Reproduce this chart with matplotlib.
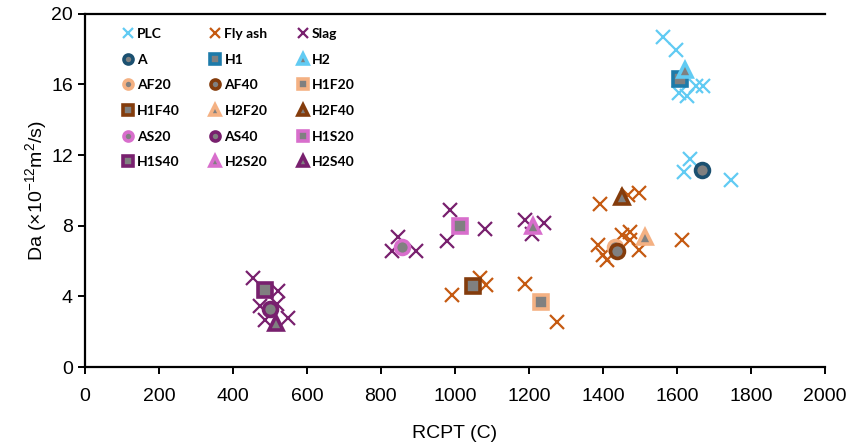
import matplotlib
matplotlib.use("Agg")
import matplotlib.pyplot as plt

plt.rcParams['mathtext.default'] = 'regular'

# ---- data (RCPT in C, Da in 1e-12 m2/s) ----
plc_x = [1561, 1596, 1605, 1626, 1651, 1669, 1635, 1619, 1746]
plc_y = [18.7, 17.95, 15.5, 15.35, 15.9, 15.9, 11.8, 11.05, 10.6]

flyash_x = [1392, 1468, 1497, 1387, 1399, 1410, 1451, 1473, 1473, 1497, 1614,
            1068, 1084, 991, 1189, 1275]
flyash_y = [9.25, 9.75, 9.85, 6.9, 6.35, 6.05, 7.5, 7.65, 7.2, 6.65, 7.2,
            5.05, 4.65, 4.1, 4.7, 2.55]

slag_x = [847, 829, 896, 986, 979, 1081, 1189, 1207, 1241,
          455, 522, 472, 520, 487, 548]
slag_y = [7.38, 6.55, 6.55, 8.9, 7.15, 7.8, 8.35, 7.55, 8.15,
          5.05, 4.3, 3.45, 3.55, 2.65, 2.8]

mix_names = ["A", "H1", "H2", "AF20", "AF40", "H1F20", "H1F40", "H2F20", "H2F40",
             "AS20", "AS40", "H1S20", "H1S40", "H2S20", "H2S40"]
mix_x = [1668, 1608, 1622, 1433, 1437, 1232, 1048, 1514, 1451,
         858, 500, 1014, 488, 1212, 516]
mix_y = [11.15, 16.3, 16.8, 6.8, 6.55, 3.7, 4.6, 7.35, 9.65,
         6.8, 3.3, 8.0, 4.35, 8.0, 2.5]
mix_marker = ['o', 's', '^', 'o', 'o', 's', 's', '^', '^',
              'o', 'o', 's', 's', '^', '^']
mix_edge = ['#1B5070', '#1D7BAA', '#61CBF3', '#F4B183', '#843C0C', '#F4B183', '#843C0C',
            '#F4B183', '#843C0C', '#D86ECC', '#78206E', '#D86ECC', '#78206E',
            '#D86ECC', '#78206E']

c_plc = '#61CBF3'
c_fly = '#C55A11'
c_slag = '#78206E'

fig = plt.figure(figsize=(8.48, 4.46), dpi=100)
ax = fig.add_axes([0.100, 0.177, 0.873, 0.792])

ax.plot(plc_x, plc_y, 'x', color=c_plc, ms=10, mew=1.6, label='PLC')
ax.plot(flyash_x, flyash_y, 'x', color=c_fly, ms=10, mew=1.6, label='Fly ash')
ax.plot(slag_x, slag_y, 'x', color=c_slag, ms=10, mew=1.6, label='Slag')

for i in range(len(mix_names)):
    ax.plot(mix_x[i], mix_y[i], mix_marker[i], ms=10, mfc='#808080',
            mec=mix_edge[i], mew=2.6, label=mix_names[i], ls='none')

ax.set_xlim(0, 2000)
ax.set_ylim(0, 20)
ax.set_xticks(range(0, 2001, 200))
ax.set_yticks(range(0, 21, 4))

for s in ['left', 'bottom', 'top']:
    ax.spines[s].set_linewidth(1.6)
ax.spines['right'].set_visible(False)
ax.tick_params(direction='out', length=5, width=1.4, labelsize=14)
ax.tick_params(axis='x', pad=10)

for lab in ax.get_xticklabels() + ax.get_yticklabels():
    lab.set_family('Liberation Sans')

ax.set_xlabel('RCPT (C)', fontsize=14, family='Liberation Sans')
ax.xaxis.label.set_va('center')
ax.xaxis.set_label_coords(0.5, -0.188)
ax.set_ylabel('Da (×10$^{-12}$m$^2$/s)', fontsize=14, family='Liberation Sans')
ax.yaxis.label.set_va('center')
ax.yaxis.set_label_coords(-0.066, 0.5)

# legend fills column by column, so reorder to read row by row
handles, labels = ax.get_legend_handles_labels()
order = [i for c in range(3) for i in range(c, len(handles), 3)]
leg = ax.legend([handles[i] for i in order], [labels[i] for i in order],
                loc='upper left', ncol=3, frameon=False,
                prop={'family': 'Lato', 'weight': 'bold', 'size': 10},
                handlelength=0.7, handletextpad=0.3, columnspacing=2.2,
                labelspacing=0.98, markerscale=0.65, bbox_to_anchor=(0.035, 0.995))

fig.savefig('out.png', dpi=100)
